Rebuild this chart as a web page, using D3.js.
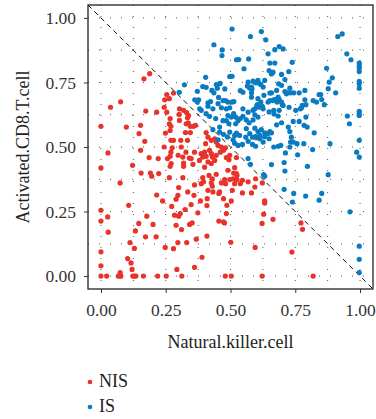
<!DOCTYPE html>
<html><head><meta charset="utf-8">
<script src="https://cdn.jsdelivr.net/npm/d3@7"></script>
<style>
body{margin:0;background:#fff;}
svg{display:block;}
text{font-family:"Liberation Serif","DejaVu Serif",serif;}
</style></head>
<body>
<svg id="chart" width="376" height="419"></svg>
<script>
const xTitle = "Natural.killer.cell";
const yTitle = "Activated.CD8.T.cell";
const majorTicks = [0, 0.25, 0.5, 0.75, 1];
const minorTicks = [0.125, 0.375, 0.625, 0.875];
const tickLabels = ["0.00", "0.25", "0.50", "0.75", "1.00"];
const groups = ["NIS", "IS"];
const groupColors = ["#E8332A", "#0A7BC1"];

const nisPoints = [
[0,0],[0.022,0],[0.067,0],[0.074,0],[0.077,0],[0.123,0],[0.129,0],[0.135,0],[0.164,0],[0.219,0],[0.252,0],[0.312,0],[0.48,0],[0.503,0],[0.622,0],[0.819,0],
[0,0.58],[0,0.419],[0,0.255],[0,0.213],[0,0.094],[0,0.04],
[0.074,0.014],[0.12,0.026],[0.103,0.068],[0.116,0.051],[0.129,0.107],[0.112,0.13],[0.133,0.175],[0.146,0.204],[0.172,0.152],[0.213,0.152],[0.177,0.232],[0.201,0.2],[0.026,0.229],[0.028,0.17],[0.107,0.274],
[0.074,0.361],[0.122,0.429],[0.155,0.399],[0.191,0.399],[0.196,0.387],[0.027,0.477],
[0.188,0.784],[0.166,0.764],[0.076,0.675],[0.037,0.654],[0.254,0.703],[0.28,0.709],[0.264,0.687],[0.246,0.683],[0.244,0.654],[0.254,0.635],[0.173,0.639],[0.215,0.635],[0.302,0.626],[0.319,0.642],[0.331,0.633],[0.303,0.603],[0.267,0.61],[0.334,0.613],[0.337,0.593],[0.098,0.577],[0.153,0.584],[0.27,0.58],[0.357,0.58],[0.345,0.58],[0.147,0.552],[0.169,0.522],[0.27,0.526],[0.28,0.526],[0.308,0.526],[0.334,0.526],[0.244,0.5],[0.153,0.487],[0.27,0.48],[0.298,0.468],[0.328,0.48],[0.186,0.459],[0.221,0.455],[0.257,0.455],[0.341,0.457],
[0.303,0.648],[0.338,0.622],[0.329,0.59],[0.365,0.584],[0.264,0.59],[0.249,0.554],[0.267,0.564],[0.326,0.556],[0.345,0.556],[0.275,0.497],[0.31,0.5],[0.267,0.464],[0.361,0.48],[0.387,0.474],[0.4,0.48],[0.404,0.513],[0.413,0.538],[0.426,0.526],[0.439,0.532],[0.445,0.519],[0.452,0.506],[0.465,0.5],[0.473,0.487],[0.481,0.497],[0.461,0.48],[0.426,0.474],[0.406,0.464],[0.419,0.487],[0.393,0.461],[0.43,0.461],[0.445,0.468],[0.497,0.468],[0.38,0.448],[0.413,0.442],[0.439,0.448],[0.494,0.451],[0.4,0.422],[0.426,0.436],[0.316,0.461],[0.271,0.436],[0.319,0.438],[0.348,0.455],[0.355,0.433],[0.267,0.425],[0.223,0.397],[0.319,0.425],[0.417,0.39],[0.445,0.394],[0.49,0.41],[0.516,0.42],[0.525,0.39],[0.51,0.377],[0.477,0.374],[0.43,0.377],[0.393,0.381],[0.316,0.381],[0.264,0.381],[0.387,0.358],[0.465,0.361],[0.497,0.374],[0.546,0.371],[0.406,0.556],
[0.3,0.343],[0.335,0.326],[0.361,0.353],[0.396,0.365],[0.426,0.361],[0.43,0.348],[0.481,0.358],[0.516,0.358],[0.538,0.358],[0.568,0.365],[0.594,0.345],[0.507,0.332],[0.546,0.322],[0.581,0.322],[0.432,0.326],[0.455,0.32],[0.413,0.332],[0.215,0.314],[0.297,0.313],[0.359,0.313],[0.29,0.298],[0.238,0.291],[0.384,0.291],[0.41,0.3],[0.473,0.3],[0.503,0.291],[0.348,0.277],[0.409,0.273],[0.486,0.274],[0.273,0.27],[0.325,0.258],[0.306,0.242],[0.284,0.236],[0.3,0.232],[0.374,0.245],[0.484,0.242],[0.455,0.213],[0.477,0.206],[0.29,0.197],[0.342,0.2],[0.352,0.206],[0.311,0.18],[0.368,0.143],[0.409,0.155],[0.297,0.13],[0.331,0.13],[0.501,0.131],[0.595,0.111],[0.248,0.111],[0.28,0.106],[0.39,0.073],[0.293,0.026],[0.361,0.034],
[0.523,0.459],[0.484,0.459],[0.523,0.397],[0.512,0.399],[0.525,0.374],[0.597,0.377],[0.623,0.361],[0.458,0.326],[0.632,0.291],[0.632,0.283],[0.628,0.24],[0.664,0.22],[0.622,0.204],[0.473,0.21],[0.772,0.206],[0.778,0.181],[0.737,0.093]
];

const isPoints = [
[0.302,0.712],[0.322,0.741],[0.362,0.683],
[0.506,0.957],[0.619,0.947],[0.577,0.928],[0.636,0.915],[0.436,0.896],[0.468,0.876],[0.467,0.854],[0.523,0.838],[0.532,0.839],[0.57,0.841],[0.645,0.861],[0.671,0.877],[0.688,0.889],[0.703,0.88],[0.552,0.803],[0.652,0.825],[0.671,0.825],[0.649,0.796],[0.658,0.783],[0.664,0.79],[0.404,0.77],[0.497,0.773],[0.506,0.774],[0.393,0.734],[0.406,0.731],[0.445,0.742],[0.46,0.747],[0.449,0.728],[0.372,0.716],[0.428,0.719],[0.436,0.71],[0.478,0.725],[0.538,0.718],[0.548,0.712],[0.568,0.751],[0.565,0.736],[0.581,0.732],[0.596,0.749],[0.606,0.758],[0.632,0.758],[0.626,0.732],[0.617,0.742],[0.581,0.71],[0.629,0.7],[0.658,0.71],[0.678,0.719],[0.686,0.745],[0.697,0.739],[0.684,0.693],[0.671,0.684],[0.377,0.683],[0.372,0.674],[0.413,0.671],[0.423,0.676],[0.454,0.692],[0.481,0.68],[0.49,0.674],[0.506,0.674],[0.513,0.676],[0.604,0.664],[0.617,0.674],[0.645,0.674],
[0.914,0.928],[0.931,0.938],[0.949,0.861],[0.965,0.838],[0.997,0.825],[0.997,0.816],[0.997,0.806],[0.997,0.792],[0.997,0.754],[0.997,0.745],[0.997,0.728],[0.997,0.638],[0.997,0.629],[0.997,0.622],[0.951,0.62],[0.959,0.59],[0.997,0.526],[0.871,0.805],[0.893,0.768],[0.881,0.751],[0.877,0.726],[0.906,0.71],[0.842,0.703],[0.848,0.703],[0.852,0.684],[0.832,0.674],[0.862,0.664],[0.823,0.555],[0.738,0.828],[0.697,0.781],[0.725,0.792],[0.71,0.761],[0.729,0.728],[0.71,0.715],[0.719,0.71],[0.732,0.71],[0.744,0.71],[0.765,0.71],[0.787,0.719],[0.668,0.683],[0.68,0.674],[0.688,0.684],[0.697,0.674],[0.7,0.664],[0.726,0.654],[0.752,0.642],[0.77,0.648],[0.777,0.661],[0.791,0.664],[0.787,0.683],[0.791,0.616],[0.742,0.599],[0.765,0.599],[0.784,0.584],[0.697,0.594],[0.678,0.586],[0.729,0.56],[0.735,0.538],[0.742,0.519],[0.732,0.519],[0.652,0.56],[0.667,0.642],[0.688,0.642],[0.884,0.513],
[0.458,0.745],[0.587,0.755],[0.61,0.747],[0.574,0.729],[0.583,0.725],[0.652,0.709],[0.716,0.706],[0.581,0.693],[0.606,0.687],[0.471,0.68],[0.465,0.652],[0.484,0.648],[0.497,0.652],[0.512,0.629],[0.52,0.616],[0.548,0.648],[0.568,0.635],[0.587,0.642],[0.594,0.648],[0.602,0.661],[0.61,0.654],[0.623,0.657],[0.626,0.648],[0.652,0.68],[0.664,0.68],[0.703,0.661],[0.774,0.652],[0.49,0.622],[0.503,0.616],[0.471,0.602],[0.484,0.602],[0.494,0.59],[0.529,0.602],[0.52,0.59],[0.538,0.61],[0.548,0.619],[0.606,0.616],[0.723,0.577],[0.796,0.577],[0.594,0.573],[0.606,0.56],[0.619,0.567],[0.632,0.555],[0.645,0.552],[0.658,0.555],[0.632,0.54],[0.613,0.545],[0.597,0.54],
[0.561,0.605],[0.572,0.594],[0.587,0.605],[0.594,0.625],[0.649,0.636],[0.668,0.628],[0.684,0.62],
[0.458,0.558],[0.473,0.549],[0.497,0.558],[0.516,0.545],[0.535,0.545],[0.51,0.528],[0.516,0.515],[0.529,0.506],[0.546,0.51],[0.568,0.522],[0.585,0.51],[0.597,0.503],[0.626,0.519],[0.649,0.532],[0.667,0.5],[0.684,0.503],[0.729,0.5],[0.757,0.513],
[0.561,0.571],[0.574,0.552],[0.559,0.538],[0.585,0.538],[0.6,0.536],[0.613,0.532],
[0.432,0.567],[0.452,0.528],[0.488,0.539],[0.523,0.554],
[0.694,0.506],[0.712,0.477],[0.783,0.513],[0.817,0.49],[0.987,0.48],[0.997,0.461],[0.568,0.455],[0.577,0.433],[0.658,0.432],[0.707,0.44],[0.71,0.407],[0.759,0.47],[0.797,0.425],[0.877,0.393],[0.628,0.393],[0.632,0.387],[0.707,0.336],[0.744,0.32],[0.739,0.287],[0.79,0.31],[0.842,0.294],[0.852,0.32],[0.961,0.249],[0.997,0.116],[0.997,0.065],[0.997,0.014],
[0.381,0.648],[0.387,0.642],[0.406,0.629],[0.432,0.648],[0.452,0.668],[0.419,0.619],[0.443,0.61],[0.458,0.577],[0.413,0.658],[0.819,0.68]
];

const svg = d3.select("#chart");
const L = 88, R = 373, T = 5, B = 289;
const x = d3.scaleLinear().domain([-0.05, 1.05]).range([L, R]);
const y = d3.scaleLinear().domain([-0.05, 1.05]).range([B, T]);

// grid (dotted)
const grid = svg.append("g");
const allGrid = majorTicks.concat(minorTicks);
grid.selectAll("line.v").data(allGrid).enter().append("line")
  .attr("x1", d => x(d)).attr("x2", d => x(d)).attr("y1", T).attr("y2", B)
  .attr("stroke", "#555").attr("stroke-width", 1).attr("stroke-dasharray", "1,10");
grid.selectAll("line.h").data(allGrid).enter().append("line")
  .attr("x1", L).attr("x2", R).attr("y1", d => y(d)).attr("y2", d => y(d))
  .attr("stroke", "#555").attr("stroke-width", 1).attr("stroke-dasharray", "1,10");

// diagonal reference line y = 1 - x
svg.append("line")
  .attr("x1", x(-0.05)).attr("y1", y(1.05)).attr("x2", x(1.05)).attr("y2", y(-0.05))
  .attr("stroke", "#111").attr("stroke-width", 1).attr("stroke-dasharray", "5,4");

// points
const pts = svg.append("g");
[nisPoints, isPoints].forEach((arr, i) => {
  pts.selectAll(null).data(arr).enter().append("circle")
    .attr("cx", d => x(d[0])).attr("cy", d => y(d[1])).attr("r", 2.6)
    .attr("fill", groupColors[i]);
});

// panel border
svg.append("rect").attr("x", L).attr("y", T).attr("width", R - L).attr("height", B - T)
  .attr("fill", "none").attr("stroke", "#222").attr("stroke-width", 1.3);

// axes
const fmt = (d) => tickLabels[majorTicks.indexOf(d)];
const xAxis = svg.append("g").attr("transform", `translate(0,${B})`)
  .call(d3.axisBottom(x).tickValues(majorTicks).tickFormat(fmt).tickSize(4).tickPadding(11));
const yAxis = svg.append("g").attr("transform", `translate(${L},0)`)
  .call(d3.axisLeft(y).tickValues(majorTicks).tickFormat(fmt).tickSize(4).tickPadding(8));
[xAxis, yAxis].forEach(a => {
  a.select(".domain").remove();
  a.selectAll(".tick line").attr("stroke", "#333").attr("stroke-width", 1);
  a.selectAll(".tick text").attr("fill", "#333").style("font-size", "17.5px")
    .style("font-family", '"Liberation Serif","DejaVu Serif",serif');
});

// axis titles
svg.append("text").attr("x", (L + R) / 2).attr("y", 348).attr("text-anchor", "middle")
  .style("font-size", "18px").attr("fill", "#222").text(xTitle);
svg.append("text").attr("transform", `translate(29,${(T + B) / 2}) rotate(-90)`)
  .attr("text-anchor", "middle").style("font-size", "18px").attr("fill", "#222").text(yTitle);

// legend
const leg = svg.append("g");
groups.forEach((g, i) => {
  const cy = 382 + i * 25;
  leg.append("circle").attr("cx", 90).attr("cy", cy).attr("r", 2.3).attr("fill", groupColors[i]);
  leg.append("text").attr("x", 99).attr("y", cy + 5).style("font-size", "18px").attr("fill", "#222").text(g);
});
</script>
</body></html>
